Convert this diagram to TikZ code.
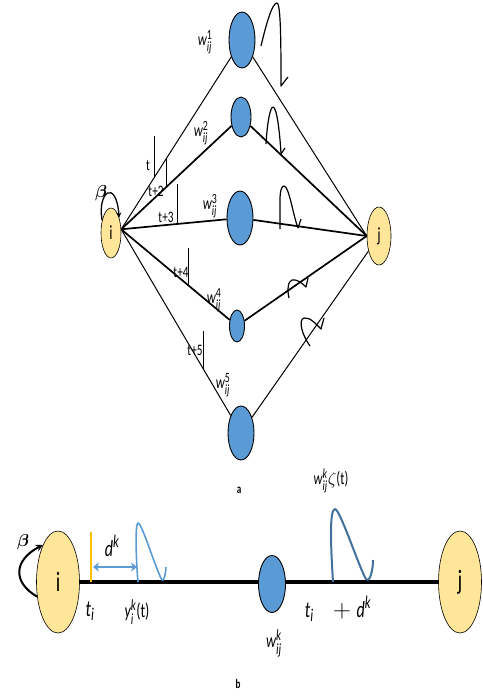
\documentclass[tikz,border=0pt]{standalone}
\usepackage{amsmath}
\usepackage{fontspec}
\setmainfont[FakeStretch=0.7]{Carlito}
\renewcommand{\defaultscriptratio}{0.78}
\usetikzlibrary{shapes.geometric,arrows.meta,backgrounds}
\definecolor{nodeblue}{HTML}{5B9BD5}
\definecolor{nodeyellow}{HTML}{FFE699}
\definecolor{darkpulse}{HTML}{41719C}
\definecolor{orangemark}{HTML}{FFC000}
\newcommand{\wij}[1]{$\textit{w}_{\textit{ij}}^{\text{#1}}$}
\begin{document}
\begin{tikzpicture}[x=1pt,y=-1pt,
  wnode/.style={ellipse,draw=black,line width=0.9pt,fill=nodeblue,inner sep=0pt},
  ynode/.style={ellipse,draw=black,line width=0.6pt,fill=nodeyellow,inner sep=0pt},
  thinedge/.style={line width=1pt},
  thickedge/.style={line width=1.7pt},
  pulse/.style={line width=1.2pt,line join=round},
  tickmark/.style={line width=1pt},
  tlbl/.style={font=\fontsize{16}{17}\selectfont,inner sep=0pt},
  wlbl/.style={font=\fontsize{18}{19}\selectfont,inner sep=0pt},
  blbl/.style={font=\fontsize{23}{24}\selectfont,inner sep=0pt},
  partlbl/.style={font=\fontsize{13}{13}\selectfont\bfseries,inner sep=0pt},
]
\useasboundingbox (0,0) rectangle (482,696);

% ---------------- part a ----------------
\node[ynode,minimum width=20pt,minimum height=50pt,font=\fontsize{20}{20}\selectfont] (i) at (111,233) {i};
\node[ynode,minimum width=24pt,minimum height=58pt,font=\fontsize{20}{20}\selectfont] (j) at (379,236) {j};
\node[wnode,minimum width=26pt,minimum height=56pt] (b1) at (242,40) {};
\node[wnode,minimum width=20pt,minimum height=40pt] (b2) at (241,117) {};
\node[wnode,minimum width=26pt,minimum height=54pt] (b3) at (240,218) {};
\node[wnode,minimum width=15pt,minimum height=32pt] (b4) at (237,326) {};
\node[wnode,minimum width=26pt,minimum height=54pt] (b5) at (241,433) {};

\draw[thinedge]  (i.20) -- (b1) coordinate[pos=0.30] (m1);
\draw[thickedge] (i.20) -- (b2) coordinate[pos=0.41] (m2);
\draw[thickedge] (i.20) -- (b3) coordinate[pos=0.53] (m3);
\draw[thickedge] (i.20) -- (b4) coordinate[pos=0.62] (m4);
\draw[thinedge]  (i.20) -- (b5) coordinate[pos=0.75] (m5);
\draw[thinedge]  (b1) -- (j.west);
\draw[thickedge] (b2) -- (j.west);
\draw[thickedge] (b3) -- (j.west);
\draw[thickedge] (b4) -- (j.west);
\draw[thinedge]  (b5) -- (j);

% time ticks
\draw[tickmark] (m1) -- ++(0,-42);
\draw[tickmark] (m2) -- ++(0,-28);
\draw[tickmark] (m3) -- ++(0,-40);
\draw[tickmark] (m4) -- ++(0,-37);
\draw[tickmark] (m5) -- ++(0,-38);
\node[tlbl] (lt1) at (148,165) {t};
\node[tlbl] (lt2) at (156,191) {t+2};
\node[tlbl] (lt3) at (166,217) {t+3};
\node[tlbl] (lt4) at (181,272) {t+4};
\node[tlbl] (lt5) at (195,350) {t+5};

% weight labels
\node[wlbl] (w1) at (205,42) {\wij{1}};
\node[wlbl] (w2) at (201,133) {\wij{2}};
\node[wlbl] (w3) at (210,206) {\wij{3}};
\node[wlbl] (w4) at (214,300) {\wij{4}};
\node[wlbl] (w5) at (223,385) {\wij{5}};

% self loop beta
\draw[line width=1.3pt,-{Stealth[length=5pt,width=5pt]}] (i.125) .. controls (97,192) and (116,178) .. (i.62);
\node[inner sep=0pt,font=\fontsize{16}{16}\selectfont] (beta1) at (101,193) {$\boldsymbol{\beta}$};

% pulses
\draw[pulse] (261,46) .. controls (266,25) and (272,3) .. (277,3) .. controls (281,3) and (281,50) .. (281,86) -- (288,77);
\draw[pulse] (266,144) .. controls (267,125) and (270,107) .. (273,107) .. controls (277,107) and (280,135) .. (281,154) -- (285,148);
\draw[pulse] (280,229) -- (280,200) .. controls (280,190) and (282,186) .. (284,186) .. controls (289,186) and (293,215) .. (298,228) -- (301,219);
\draw[pulse] (289,298) .. controls (287,290) and (288,281) .. (292,280) .. controls (297,279) and (302,283) .. (306,287) -- (308,278);
\draw[pulse] (310,346) .. controls (302,335) and (298,320) .. (304,318) .. controls (310,317) and (316,324) .. (321,329) -- (324,318);

\node[partlbl] (pa) at (239,490) {a};

% ---------------- part b ----------------
\node[ynode,minimum width=43pt,minimum height=102pt,font=\fontsize{28}{28}\selectfont] (bi) at (58,582) {i};
\node[ynode,minimum width=43pt,minimum height=102pt,font=\fontsize{28}{28}\selectfont] (bj) at (460,582) {j};
\node[wnode,minimum width=27pt,minimum height=57pt] (bk) at (272,584) {};
\begin{scope}[on background layer]
\draw[line width=3.5pt] (bi) -- (bj);
\end{scope}

\draw[line width=2pt,-{Stealth[length=7pt,width=7pt]}] (bi.215) .. controls (12,582) and (14,560) .. (bi.112);
\node[inner sep=0pt,font=\fontsize{18}{18}\selectfont] (beta2) at (23,542) {$\boldsymbol{\beta}$};

\draw[orangemark,line width=1.6pt] (91,532) -- (91,582);
\coordinate (da) at (93,567);
\coordinate (db) at (137,567);
\draw[nodeblue,line width=2.2pt,{Stealth[length=6pt,width=9pt]}-{Stealth[length=6pt,width=9pt]}] (da) -- (db);

\draw[nodeblue,line width=1.6pt,line join=round] (138,582) .. controls (136,560) and (135,523) .. (138,523) .. controls (142,523) and (156,570) .. (162,580) .. controls (164,582) and (166,572) .. (166,567);
\draw[darkpulse,line width=2pt,line join=round] (333,582) .. controls (331,550) and (329,509) .. (335,509) .. controls (340,509) and (360,570) .. (366,579) .. controls (370,583) and (373,570) .. (373,560);

\node[blbl] (ldk) at (112,546) {$\textit{d}^{\textit{k}}$};
\node[blbl] (lti) at (90,611) {$\textit{t}_{\textit{i}}$};
\node[inner sep=0pt,font=\fontsize{20}{21}\selectfont] (lyi) at (137,612) {$\textit{y}_{\textit{i}}^{\textit{k}}\text{(t)}$};
\node[inner sep=0pt,font=\fontsize{18}{19}\selectfont] (lzeta) at (331,481) {$\textit{w}_{\textit{ij}}^{\textit{k}}\zeta\text{(t)}$};
\node[blbl] (ltd) at (338,609) {$\textit{t}_{\textit{i}}\;\; + \textit{d}^{\textit{k}}$};
\node[inner sep=0pt,font=\fontsize{20}{21}\selectfont] (lwk) at (274,643) {$\textit{w}_{\textit{ij}}^{\textit{k}}$};

\node[partlbl] (pb) at (238,684) {b};
\end{tikzpicture}
\end{document}
